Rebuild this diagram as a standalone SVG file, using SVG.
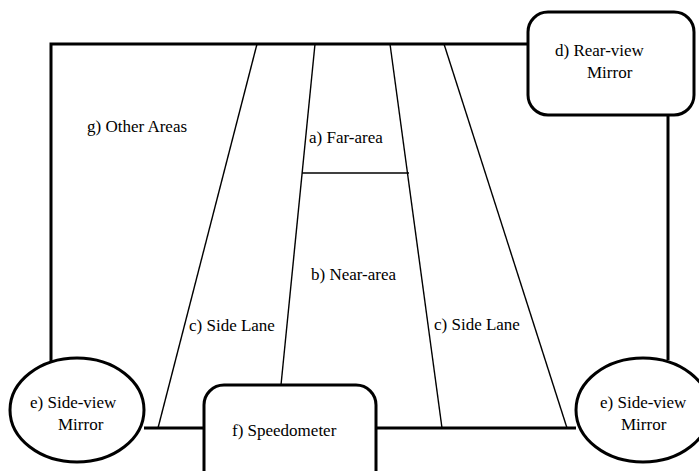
<svg xmlns="http://www.w3.org/2000/svg" width="699" height="471" viewBox="0 0 699 471">
  <style>
    .frame { fill: none; stroke: #000; stroke-width: 3; }
    .lane { fill: none; stroke: #000; stroke-width: 1.4; }
    .node { fill: #fff; stroke: #000; stroke-width: 3; }
  </style>
  <rect width="699" height="471" fill="#fff"/>

  <g id="connectors">
    <!-- outer frame linking the mirrors and the speedometer -->
    <polyline class="frame" points="51,362 51,44 528,44"/>
    <line class="frame" x1="668" y1="115" x2="668" y2="360"/>
    <line class="frame" x1="144" y1="428" x2="204" y2="428"/>
    <line class="frame" x1="376" y1="428" x2="576" y2="428"/>
    <!-- lane boundaries -->
    <line class="lane" x1="257" y1="44" x2="158" y2="428"/>
    <line class="lane" x1="315" y1="44" x2="281" y2="385"/>
    <line class="lane" x1="390" y1="44" x2="442" y2="428"/>
    <line class="lane" x1="444" y1="44" x2="567" y2="428"/>
    <line class="lane" x1="302" y1="173" x2="409" y2="173"/>
  </g>

  <g font-family="'Liberation Serif', 'DejaVu Serif', serif" font-size="17" fill="#000">
    <g id="other-areas">
      <text x="87" y="132">g) Other Areas</text>
    </g>
    <g id="far-area">
      <text x="309" y="143">a) Far-area</text>
    </g>
    <g id="near-area">
      <text x="311" y="280">b) Near-area</text>
    </g>
    <g id="side-lane-left">
      <text x="189" y="331">c) Side Lane</text>
    </g>
    <g id="side-lane-right">
      <text x="434" y="330">c) Side Lane</text>
    </g>

    <g id="rear-view-mirror">
      <rect class="node" x="528" y="12" width="166" height="103" rx="20" ry="20"/>
      <text x="555" y="56">d) Rear-view</text>
      <text x="587" y="78">Mirror</text>
    </g>

    <g id="side-view-mirror-left">
      <ellipse class="node" cx="77" cy="410" rx="67" ry="52"/>
      <text x="30" y="408">e) Side-view</text>
      <text x="58" y="430">Mirror</text>
    </g>

    <g id="side-view-mirror-right">
      <ellipse class="node" cx="643" cy="410" rx="67" ry="52"/>
      <text x="600" y="408">e) Side-view</text>
      <text x="621" y="430">Mirror</text>
    </g>

    <g id="speedometer">
      <rect class="node" x="204" y="385" width="172" height="110" rx="20" ry="20"/>
      <text x="232" y="436">f) Speedometer</text>
    </g>
  </g>
</svg>
